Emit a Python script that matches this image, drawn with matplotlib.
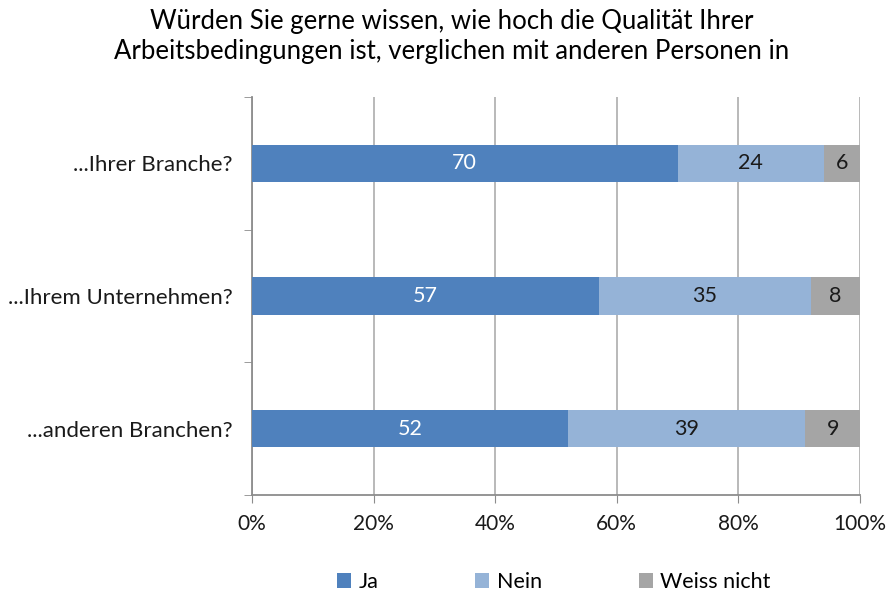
import numpy as np
import matplotlib.pyplot as plt

categories = ["...Ihrer Branche?", "...Ihrem Unternehmen?", "...anderen Branchen?"]
ja = [70, 57, 52]
nein = [24, 35, 39]
weiss_nicht = [6, 8, 9]
series_names = ["Ja", "Nein", "Weiss nicht"]
colors = ["#4F81BD", "#95B3D7", "#A5A5A5"]
text_colors = ["white", "#1a1a1a", "#1a1a1a"]
title = "Würden Sie gerne wissen, wie hoch die Qualität Ihrer\nArbeitsbedingungen ist, verglichen mit anderen Personen in"

plt.rcParams['font.family'] = ['Lato', 'DejaVu Sans']

fig = plt.figure(figsize=(8.86, 5.93), dpi=100)
ax = fig.add_axes([252/886, 1 - 495/593, 608/886, 398/593])

y = np.arange(len(categories))
left = np.zeros(len(categories))
for vals, name, col, tc in zip([ja, nein, weiss_nicht], series_names, colors, text_colors):
	vals = np.array(vals, dtype=float)
	ax.barh(y, vals, left=left, height=0.28, color=col, label=name, zorder=3)
	for yi, l, v in zip(y, left, vals):
		ax.text(l + v / 2, yi, "%d" % v, ha="center", va="center", color=tc, fontsize=15.5, zorder=4)
	left = left + vals

ax.set_xlim(0, 100)
ax.set_ylim(len(categories) - 0.5, -0.5)
ax.set_xticks(np.arange(0, 101, 20))
ax.set_xticklabels(["%d%%" % v for v in range(0, 101, 20)], fontsize=15, color="#1a1a1a")
ax.set_yticks(y)
ax.set_yticklabels(categories, fontsize=16, color="#1a1a1a")
ax.tick_params(axis="y", length=0, pad=14)
ax.tick_params(axis="x", length=6, color="#8c8c8c", pad=8, direction="out")
ax.set_yticks(np.arange(-0.5, len(categories)), minor=True)
ax.tick_params(axis="y", which="minor", length=6, color="#8c8c8c")

ax.grid(axis="x", color="#b3b3b3", linewidth=1.3, zorder=0)
for s in ["top", "right"]:
	ax.spines[s].set_visible(False)
for s in ["left", "bottom"]:
	ax.spines[s].set_color("#8c8c8c")
	ax.spines[s].set_linewidth(1.3)

fig.text(452/886, 1 - 36/593, title, ha="center", va="center", fontsize=18.5, color="black", linespacing=1.25)

leg = fig.legend(loc="center", bbox_to_anchor=(554/886, 1 - 582/593), ncol=3, frameon=False,
	fontsize=15.5, handlelength=0.65, handleheight=0.65, columnspacing=4.5, handletextpad=0.35)

plt.savefig("out.png", dpi=100)
